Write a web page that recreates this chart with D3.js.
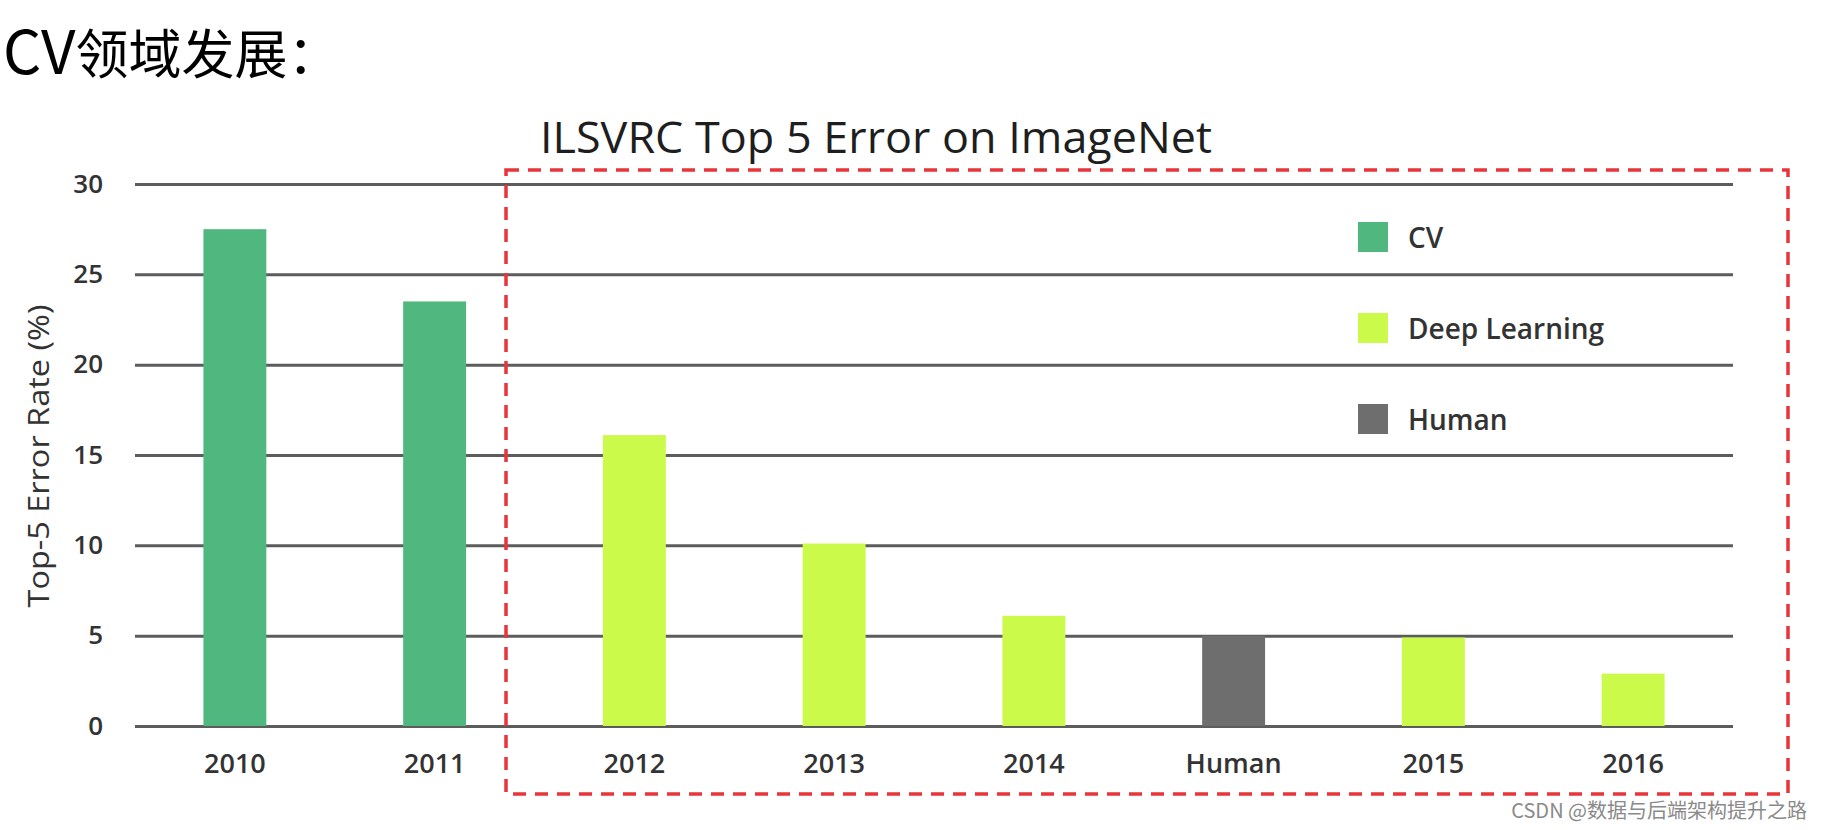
<!DOCTYPE html>
<html>
<head>
<meta charset="utf-8">
<script src="https://cdn.jsdelivr.net/npm/d3@7"></script>
<style>
  html, body { margin: 0; padding: 0; background: #fff; }
  svg { display: block; }
</style>
</head>
<body>
<svg id="chart" width="1830" height="830"></svg>
<script>
// ---- data ----
const categories = ["2010", "2011", "2012", "2013", "2014", "Human", "2015", "2016"];
const errorRates = [27.5, 23.5, 16.1, 10.1, 6.1, 5.0, 4.9, 2.9];
const groups = ["CV", "CV", "Deep Learning", "Deep Learning", "Deep Learning", "Human", "Deep Learning", "Deep Learning"];
const legendLabels = ["CV", "Deep Learning", "Human"];
const groupColors = ["#50b87f", "#ccfa4b", "#6e6e6e"];
const yTicks = [0, 5, 10, 15, 20, 25, 30];

const svg = d3.select("#chart");

// page heading
const heading = svg.append("text")
  .attr("x", 3).attr("y", 74)
  .attr("font-family", "'Noto Sans CJK SC', 'Noto Sans', sans-serif")
  .attr("fill", "#000");
heading.append("tspan").attr("font-size", 60).text("CV");
heading.append("tspan").attr("font-size", 53).text("领域发展：");

// scales
const x = d3.scaleBand().domain(categories).range([135, 1733])
  .paddingInner(0.685).paddingOuter(0.3425);
const y = d3.scaleLinear().domain([0, 30]).range([726, 184]);
const color = d3.scaleOrdinal().domain(legendLabels).range(groupColors);

// y axis with gridlines
const yAxis = svg.append("g")
  .attr("transform", "translate(135,0)")
  .call(d3.axisLeft(y).tickValues(yTicks).tickSize(-(1733 - 135)).tickPadding(32));
yAxis.select(".domain").remove();
yAxis.selectAll(".tick line").attr("stroke", "#5c5c5c").attr("stroke-width", 3);
yAxis.selectAll(".tick text")
  .attr("font-family", "'Open Sans', 'Noto Sans', sans-serif")
  .attr("font-size", 26).attr("font-weight", 600).attr("fill", "#333");

// bars
svg.append("g").selectAll("rect")
  .data(categories)
  .join("rect")
  .attr("x", d => x(d))
  .attr("width", x.bandwidth())
  .attr("y", (d, i) => y(errorRates[i]))
  .attr("height", (d, i) => y(0) - y(errorRates[i]))
  .attr("fill", (d, i) => color(groups[i]));

// x axis labels
const xAxis = svg.append("g")
  .attr("transform", "translate(0,726)")
  .call(d3.axisBottom(x).tickSize(0));
xAxis.select(".domain").remove();
xAxis.selectAll(".tick text")
  .attr("y", 47).attr("dy", 0)
  .attr("font-family", "'Open Sans', 'Noto Sans', sans-serif")
  .attr("font-size", 27).attr("font-weight", 600).attr("fill", "#333");

// y axis title
svg.append("text")
  .attr("transform", "translate(49,456) rotate(-90)")
  .attr("text-anchor", "middle")
  .attr("font-family", "'Open Sans', 'Noto Sans', sans-serif")
  .attr("font-size", 30).attr("font-weight", 500).attr("fill", "#333")
  .attr("textLength", 303).attr("lengthAdjust", "spacingAndGlyphs")
  .text("Top-5 Error Rate (%)");

// chart title
svg.append("text")
  .attr("x", 540).attr("y", 153)
  .attr("font-family", "'Open Sans', 'Noto Sans', sans-serif")
  .attr("font-size", 44).attr("fill", "#1e1e1e")
  .attr("textLength", 672).attr("lengthAdjust", "spacingAndGlyphs")
  .text("ILSVRC Top 5 Error on ImageNet");

// legend
const legend = svg.append("g").selectAll("g")
  .data(legendLabels)
  .join("g")
  .attr("transform", (d, i) => `translate(1358,${222 + i * 91})`);
legend.append("rect").attr("width", 30).attr("height", 30).attr("fill", d => color(d));
legend.append("text")
  .attr("x", 50).attr("y", 26)
  .attr("font-family", "'Open Sans', 'Noto Sans', sans-serif")
  .attr("font-size", 28).attr("font-weight", 600).attr("fill", "#333")
  .text(d => d);

// red dashed highlight box
svg.append("rect")
  .attr("x", 506).attr("y", 170)
  .attr("width", 1788 - 506).attr("height", 794 - 170)
  .attr("fill", "none")
  .attr("stroke", "#e8353a").attr("stroke-width", 3.5)
  .attr("stroke-dasharray", "13 9");

// watermark
svg.append("text")
  .attr("x", 1807).attr("y", 818)
  .attr("text-anchor", "end")
  .attr("font-family", "'Noto Sans CJK SC', 'Noto Sans', sans-serif")
  .attr("font-size", 20).attr("fill", "#8a8a8a")
  .text("CSDN @数据与后端架构提升之路");
</script>
</body>
</html>
